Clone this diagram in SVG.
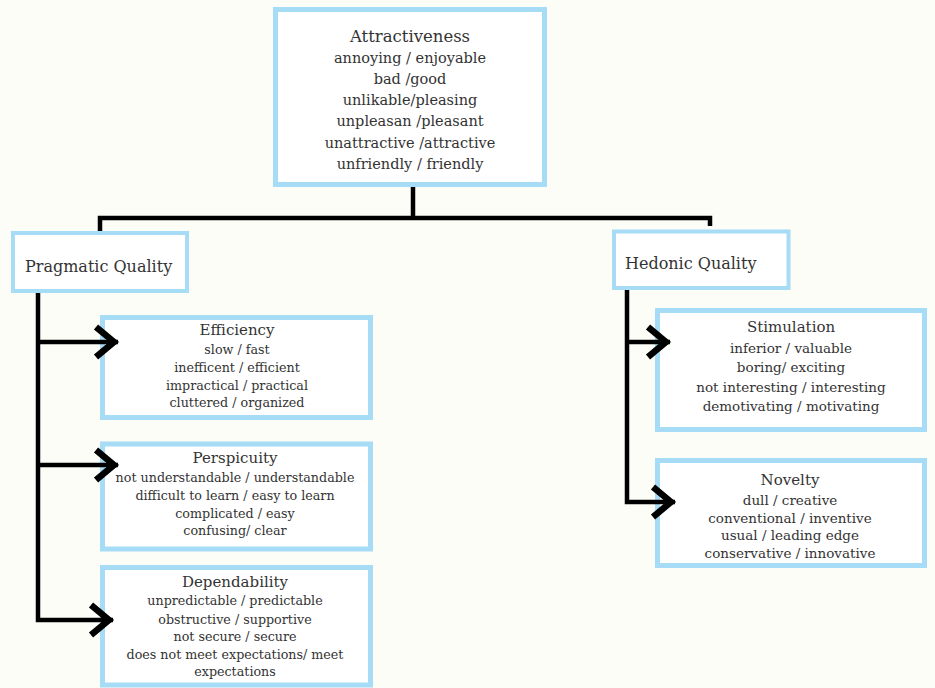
<svg xmlns="http://www.w3.org/2000/svg" width="935" height="688" viewBox="0 0 935 688">
<style>
.box{fill:#FFFFFF;stroke:#A6DCF5;stroke-width:5}
.t{font-family:"DejaVu Serif","Liberation Serif",serif;fill:#333333;text-anchor:middle}
.h{font-size:15px}
.i{font-size:12.7px}
.ir{font-size:13.5px}
.q{font-family:"DejaVu Serif","Liberation Serif",serif;fill:#333333;font-size:16px}
.c{fill:none;stroke:#000;stroke-width:4.5;stroke-linejoin:miter}
</style>
<defs>
<marker id="chev" markerUnits="userSpaceOnUse" markerWidth="34" markerHeight="44" viewBox="0 0 34 44" refX="26" refY="22" orient="auto">
<path d="M4,7 L22,22 L4,37" fill="none" stroke="#000" stroke-width="6.5"/>
</marker>
</defs>
<rect width="935" height="688" fill="#FDFDF8"/>
<g id="attractiveness">
<rect class="box" x="275.5" y="9.5" width="269" height="175"/>
<text class="t" x="410" y="42" font-size="16.5">Attractiveness</text>
<text class="t" x="410" y="63" font-size="14.5">annoying / enjoyable</text>
<text class="t" x="410" y="84" font-size="14.5">bad /good</text>
<text class="t" x="410" y="105" font-size="14.5">unlikable/pleasing</text>
<text class="t" x="410" y="126" font-size="14.5">unpleasan /pleasant</text>
<text class="t" x="410" y="148" font-size="14.5">unattractive /attractive</text>
<text class="t" x="410" y="169" font-size="14.5">unfriendly / friendly</text>
</g>
<g id="pragmatic">
<rect class="box" x="13" y="233" width="174" height="58" style="stroke-width:4"/>
<text class="q" x="25" y="272">Pragmatic Quality</text>
</g>
<g id="hedonic">
<rect class="box" x="614" y="231.5" width="174.5" height="56.5" style="stroke-width:4"/>
<text class="q" x="625" y="269">Hedonic Quality</text>
</g>
<g id="efficiency">
<rect class="box" x="102.5" y="317.5" width="268" height="100"/>
<text class="t h" x="237" y="335">Efficiency</text>
<text class="t i" x="237" y="354">slow / fast</text>
<text class="t i" x="237" y="372">inefficent / efficient</text>
<text class="t i" x="237" y="390">impractical / practical</text>
<text class="t i" x="237" y="407">cluttered / organized</text>
</g>
<g id="perspicuity">
<rect class="box" x="102.5" y="444" width="268" height="105"/>
<text class="t h" x="235" y="463">Perspicuity</text>
<text class="t i" x="235" y="482">not understandable / understandable</text>
<text class="t i" x="235" y="500">difficult to learn / easy to learn</text>
<text class="t i" x="235" y="518">complicated / easy</text>
<text class="t i" x="235" y="535">confusing/ clear</text>
</g>
<g id="dependability">
<rect class="box" x="102.5" y="567.5" width="268" height="117.5"/>
<text class="t h" x="235" y="587">Dependability</text>
<text class="t i" x="235" y="605">unpredictable / predictable</text>
<text class="t i" x="235" y="624">obstructive / supportive</text>
<text class="t i" x="235" y="641">not secure / secure</text>
<text class="t i" x="235" y="659">does not meet expectations/ meet</text>
<text class="t i" x="235" y="676">expectations</text>
</g>
<g id="stimulation">
<rect class="box" x="657.5" y="310.5" width="267" height="119"/>
<text class="t h" x="791" y="332" font-size="15.5">Stimulation</text>
<text class="t ir" x="791" y="353">inferior / valuable</text>
<text class="t ir" x="791" y="372">boring/ exciting</text>
<text class="t ir" x="791" y="392">not interesting / interesting</text>
<text class="t ir" x="791" y="411">demotivating / motivating</text>
</g>
<g id="novelty">
<rect class="box" x="657.5" y="460.5" width="267" height="105"/>
<text class="t h" x="790" y="485" font-size="15.5">Novelty</text>
<text class="t ir" x="790" y="505">dull / creative</text>
<text class="t ir" x="790" y="523">conventional / inventive</text>
<text class="t ir" x="790" y="540">usual / leading edge</text>
<text class="t ir" x="790" y="558">conservative / innovative</text>
</g>
<g id="connectors">
<path class="c" d="M413,187 V218"/>
<path class="c" d="M100,231 V218 H710 V226"/>
<path class="c" d="M38,293 V620 H113" marker-end="url(#chev)"/>
<path class="c" d="M38,342 H118" marker-end="url(#chev)"/>
<path class="c" d="M38,465 H118" marker-end="url(#chev)"/>
<path class="c" d="M627,290 V502 H675" marker-end="url(#chev)"/>
<path class="c" d="M627,342 H670" marker-end="url(#chev)"/>
</g>
</svg>
